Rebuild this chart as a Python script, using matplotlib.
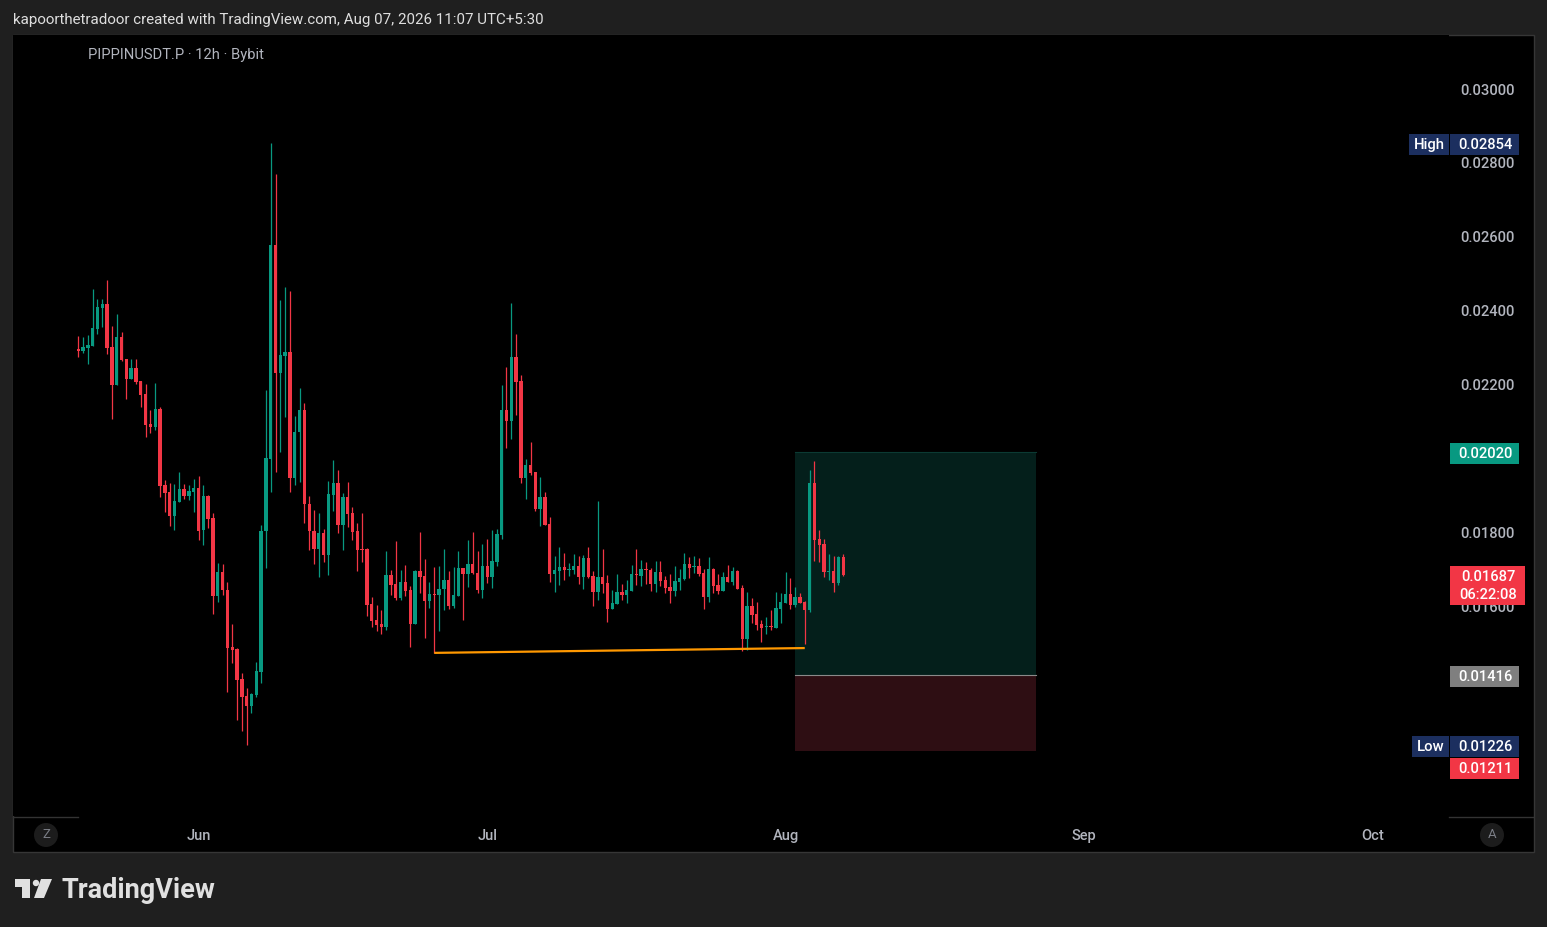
import numpy as np
import matplotlib
matplotlib.use("Agg")
import matplotlib.pyplot as plt
import matplotlib.dates as mdates
import matplotlib.transforms as mtransforms
from matplotlib.patches import Rectangle, Circle, Polygon

plt.rcParams["font.family"] = ["Roboto", "DejaVu Sans"]

# 12h candles of PIPPINUSDT.P, first one opens 2026-05-19 12:00 UTC (prices in 1e-5)
first_candle = np.datetime64("2026-05-19T12:00")
opens = [
    2297, 2292, 2300, 2305, 2351, 2408, 2419, 2303, 2200, 2330,
    2270, 2216, 2246, 2211, 2176, 2095, 2087, 2135, 1930, 1911,
    1846, 1884, 1919, 1900, 1911, 1922, 1808, 1900, 1841, 1630,
    1695, 1646, 1492, 1487, 1405, 1360, 1332, 1362, 1424, 1805,
    2000, 2578, 2232, 2278, 2289, 1949, 2073, 2132, 1878, 1805,
    1757, 1800, 1741, 1903, 1935, 1822, 1897, 1854, 1805, 1757,
    1757, 1608, 1565, 1554, 1546, 1686, 1662, 1624, 1668, 1646,
    1554, 1697, 1684, 1616, 1635, 1632, 1649, 1673, 1603, 1630,
    1705, 1689, 1716, 1692, 1646, 1711, 1681, 1722, 1795, 2132,
    2103, 2276, 2211, 1949, 1984, 1965, 1865, 1897, 1824, 1689,
    1697, 1708, 1700, 1700, 1711, 1681, 1732, 1684, 1641, 1681,
    1665, 1595, 1608, 1641, 1632, 1643, 1689, 1684, 1703, 1700,
    1662, 1695, 1673, 1654, 1643, 1668, 1676, 1716, 1708, 1711,
    1692, 1627, 1703, 1659, 1643, 1681, 1668, 1697, 1651, 1514,
    1603, 1581, 1554, 1546, 1549, 1543, 1595, 1611, 1635, 1605,
    1627, 1614, 1592, 1935, 1784, 1770, 1695, 1697, 1665, 1735,
]
highs = [
    2332, 2330, 2335, 2459, 2432, 2432, 2484, 2359, 2392, 2343,
    2270, 2270, 2270, 2211, 2203, 2132, 2205, 2141, 1943, 1935,
    1932, 1965, 1932, 1930, 1946, 1954, 1930, 1903, 1854, 1719,
    1716, 1668, 1554, 1489, 1422, 1381, 1368, 1451, 1822, 2186,
    2854, 2770, 2430, 2465, 2454, 2116, 2192, 2151, 1900, 1862,
    1854, 1811, 1941, 1997, 1970, 1908, 1938, 1870, 1827, 1854,
    1760, 1627, 1605, 1592, 1751, 1700, 1778, 1700, 1714, 1657,
    1700, 1803, 1730, 1668, 1708, 1711, 1757, 1697, 1708, 1751,
    1705, 1781, 1803, 1751, 1770, 1784, 1808, 1811, 2200, 2249,
    2422, 2338, 2227, 2000, 2046, 1965, 1951, 1911, 1843, 1738,
    1762, 1746, 1719, 1743, 1738, 1741, 1762, 1697, 1887, 1757,
    1686, 1646, 1689, 1662, 1673, 1714, 1757, 1727, 1722, 1705,
    1724, 1724, 1684, 1689, 1711, 1703, 1746, 1735, 1738, 1732,
    1703, 1735, 1705, 1689, 1695, 1714, 1708, 1700, 1659, 1641,
    1624, 1614, 1565, 1573, 1592, 1641, 1638, 1695, 1678, 1654,
    1638, 1616, 1970, 1995, 1808, 1784, 1743, 1738, 1738, 1743,
]
lows = [
    2276, 2286, 2257, 2305, 2338, 2357, 2284, 2108, 2200, 2265,
    2162, 2216, 2203, 2141, 2060, 2070, 2078, 1897, 1857, 1819,
    1808, 1884, 1892, 1889, 1857, 1781, 1768, 1814, 1581, 1614,
    1632, 1370, 1449, 1295, 1265, 1226, 1314, 1357, 1395, 1705,
    1911, 1965, 2019, 2114, 1911, 1930, 1938, 1827, 1754, 1716,
    1681, 1722, 1686, 1860, 1800, 1754, 1816, 1781, 1697, 1722,
    1576, 1546, 1535, 1527, 1538, 1632, 1619, 1619, 1630, 1492,
    1554, 1638, 1516, 1597, 1476, 1535, 1592, 1595, 1597, 1630,
    1565, 1654, 1689, 1638, 1624, 1665, 1651, 1711, 1784, 2030,
    2054, 2119, 1935, 1892, 1957, 1860, 1819, 1822, 1668, 1641,
    1659, 1673, 1684, 1689, 1662, 1649, 1678, 1603, 1619, 1638,
    1559, 1595, 1608, 1619, 1611, 1643, 1659, 1657, 1662, 1643,
    1641, 1657, 1638, 1611, 1630, 1646, 1673, 1678, 1692, 1684,
    1595, 1614, 1638, 1635, 1643, 1668, 1659, 1649, 1481, 1484,
    1557, 1538, 1505, 1527, 1538, 1543, 1557, 1611, 1595, 1600,
    1611, 1500, 1587, 1724, 1722, 1681, 1673, 1641, 1659, 1684,
]
closes = [
    2292, 2303, 2308, 2354, 2411, 2419, 2300, 2200, 2330, 2268,
    2216, 2246, 2208, 2173, 2092, 2087, 2135, 1927, 1908, 1846,
    1887, 1919, 1900, 1914, 1922, 1805, 1900, 1838, 1630, 1695,
    1646, 1489, 1484, 1403, 1357, 1332, 1365, 1427, 1805, 2003,
    2578, 2232, 2281, 2289, 1949, 2073, 2132, 1878, 1805, 1757,
    1800, 1741, 1905, 1935, 1822, 1897, 1851, 1803, 1754, 1754,
    1605, 1562, 1551, 1546, 1686, 1659, 1624, 1668, 1643, 1554,
    1697, 1681, 1616, 1635, 1632, 1649, 1673, 1603, 1632, 1705,
    1689, 1716, 1692, 1646, 1711, 1681, 1724, 1797, 2132, 2103,
    2276, 2208, 1949, 1984, 1962, 1865, 1897, 1822, 1689, 1700,
    1708, 1700, 1703, 1711, 1681, 1732, 1681, 1641, 1681, 1662,
    1595, 1611, 1641, 1632, 1646, 1689, 1686, 1703, 1700, 1662,
    1695, 1670, 1651, 1643, 1670, 1678, 1716, 1705, 1711, 1689,
    1627, 1703, 1657, 1643, 1681, 1668, 1697, 1649, 1514, 1603,
    1578, 1551, 1543, 1549, 1546, 1597, 1614, 1635, 1605, 1627,
    1611, 1592, 1935, 1781, 1768, 1695, 1697, 1665, 1735, 1687,
]

# price scale labels (0.01400 and 0.01200 are hidden behind the tags on the original)
price_ticks = [0.016, 0.018, 0.020, 0.022, 0.024, 0.026, 0.028, 0.030]
month_ticks = ["2026-06-01", "2026-07-01", "2026-08-01", "2026-09-01", "2026-10-01"]
month_labels = ["Jun", "Jul", "Aug", "Sep", "Oct"]

# long position tool and support line
pos_start, pos_end = "2026-08-02T00:00", "2026-08-27T00:00"
entry, target, stop = 0.01416, 0.02020, 0.01211
support_t = ["2026-06-25T12:00", "2026-08-03T00:00"]
support_p = [0.01476, 0.01489]

high_val, low_val, last_val = 0.02854, 0.01226, 0.01687
countdown = "06:22:08"

UP, DOWN = "#089981", "#f23645"
NAVY = "#1c2f5f"
W, H = 1547, 927

o = np.array(opens) / 1e5
h = np.array(highs) / 1e5
l = np.array(lows) / 1e5
c = np.array(closes) / 1e5
t = first_candle + np.arange(len(o)) * np.timedelta64(12, "h")
x = mdates.date2num(t)

fig = plt.figure(figsize=(W / 100, H / 100), dpi=100, facecolor="#1f1f1f")

# background layer in pixel coordinates
bg = fig.add_axes([0, 0, 1, 1])
bg.set_xlim(0, W)
bg.set_ylim(H, 0)
bg.axis("off")
bg.set_zorder(0)
bg.add_patch(Rectangle((12.5, 34.5), 1521, 817, facecolor="black", edgecolor="#363636", lw=1))
bg.plot([13, 78], [816.5, 816.5], color="#333333", lw=1)
bg.plot([1449, 1533], [816.5, 816.5], color="#333333", lw=1)
for cx, letter in [(46, "Z"), (1492, "A")]:
    bg.add_patch(Circle((cx, 835), 12, facecolor="#1c1c1c", edgecolor="none"))
    bg.text(cx, 835, letter, color="#7b7e86", fontsize=9.5, ha="center", va="center")

# TradingView logo
bg.add_patch(Polygon([(15, 879), (30, 879), (30, 898), (22, 898), (22, 887), (15, 887)],
                     facecolor="#e0e0e0", edgecolor="none"))
bg.add_patch(Circle((36, 883), 3.2, facecolor="#e0e0e0", edgecolor="none"))
bg.add_patch(Polygon([(41, 879), (52, 879), (44, 898), (34, 898)], facecolor="#e0e0e0", edgecolor="none"))
bg.text(61, 890, "TradingView", color="#e0e0e0", fontsize=19.5,
        fontweight="bold", ha="left", va="center")

bg.text(13, 20, "kapoorthetradoor created with TradingView.com, Aug 07, 2026 11:07 UTC+5:30",
        color="#dedede", fontsize=10.9, ha="left", va="center")

# main price pane
ax = fig.add_axes([13 / W, 1 - 816 / H, (1449 - 13) / W, (816 - 35) / H])
ax.set_zorder(1)
ax.set_facecolor("black")
for s in ax.spines.values():
    s.set_visible(False)

fig.text(88 / W, 1 - 54.5 / H, "PIPPINUSDT.P · 12h · Bybit", color="#b2b5be",
         fontsize=10.6, ha="left", va="center")

jun1 = mdates.date2num(np.datetime64("2026-06-01T00:00"))
ylo, yhi = 0.010351, 0.0314595
ax.set_xlim(jun1 - 19.28, jun1 + 129.95)
ax.set_ylim(ylo, yhi)
pp = (yhi - ylo) / (816 - 35)  # price per pixel

ax.set_xticks(mdates.date2num(np.array(month_ticks, dtype="datetime64[m]")))
ax.set_xticklabels(month_labels)
ax.tick_params(axis="x", length=0, pad=9.5, colors="#b2b5be", labelsize=10.5)
ax.yaxis.tick_right()
ax.set_yticks(price_ticks)
ax.set_yticklabels([f"{v:.5f}" for v in price_ticks])
ax.tick_params(axis="y", length=0, pad=8, colors="#b2b5be", labelsize=10.6)
for lab in ax.get_xticklabels() + ax.get_yticklabels():
    lab.set_fontweight("medium")

# position zones
xs, xe = mdates.date2num(np.datetime64(pos_start)), mdates.date2num(np.datetime64(pos_end))
ax.add_patch(Rectangle((xs, entry), xe - xs, target - entry, facecolor="#041f1b",
                       edgecolor="none", zorder=1))
ax.add_patch(Rectangle((xs, stop), xe - xs, entry - stop, facecolor="#2e0e13",
                       edgecolor="none", zorder=1))
ax.plot([xs, xe], [target, target], color="#0b3a33", lw=0.8, zorder=1.5)
ax.plot([xs, xe], [entry, entry], color="#8a8a8a", lw=0.8, zorder=1.5)

# candles
up = c >= o
cols = np.where(up, UP, DOWN)
ax.vlines(x, l, h, colors=cols, lw=0.9, zorder=3)
body_lo = np.minimum(o, c)
body_h = np.maximum(np.abs(c - o), pp * 1.2)
ax.bar(x, body_h, bottom=body_lo, width=0.35, color=cols, edgecolor="none", zorder=4)

# support line
ax.plot(mdates.date2num(np.array(support_t, dtype="datetime64[m]")), support_p,
        color="#ff9800", lw=1.6, zorder=5, solid_capstyle="butt")

# price scale tags
blend = mtransforms.blended_transform_factory(fig.transFigure, ax.transData)


def tag(price, text, color, x0=1450, x1=1519, shift=0, rows=1, tcolor="white"):
    yc = price - (shift + 1.5) * pp
    top = yc + 10.5 * pp
    bottom = yc - (10.5 + 18 * (rows - 1)) * pp
    ax.add_patch(Rectangle((x0 / W, bottom), (x1 - x0) / W, top - bottom, transform=blend,
                           facecolor=color, edgecolor="none", clip_on=False, zorder=8))
    for i, s in enumerate(text.split("\n")):
        ax.text((x0 + x1) / 2 / W + 0.5 / W, yc - (i * 18 + 0.5) * pp, s, transform=blend,
                ha="center", va="center", color=tcolor, fontsize=10.6, fontweight="medium",
                clip_on=False, zorder=9)


tag(high_val, "High", NAVY, x0=1409, x1=1449)
tag(high_val, f"{high_val:.5f}", NAVY)
tag(target, f"{target:.5f}", UP)
tag(last_val, f"{last_val:.5f}\n{countdown}", DOWN, x1=1525, rows=2)
tag(entry, f"{entry:.5f}", "#7f7f7f")
tag(low_val, "Low", NAVY, x0=1412, x1=1449)
tag(low_val, f"{low_val:.5f}", NAVY)
tag(stop, f"{stop:.5f}", DOWN, shift=16)

fig.savefig("out.png", dpi=100, facecolor=fig.get_facecolor())
